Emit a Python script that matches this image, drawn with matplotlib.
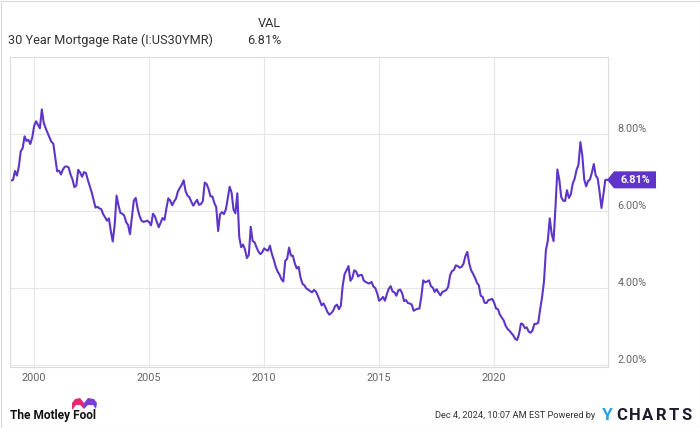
import numpy as np
import matplotlib.pyplot as plt
from matplotlib.patches import Polygon, Rectangle

plt.rcParams['font.family'] = ['Roboto', 'DejaVu Sans']

# 30 year fixed mortgage rate, monthly, Jan 1999 .. Dec 2024 (%)
start_year = 1999
rates = [
    6.79, 6.81, 7.04, 6.92, 7.15, 7.55, 7.63, 7.94, 7.82, 7.85, 7.74, 7.91,  # 1999
    8.21, 8.33, 8.24, 8.15, 8.64, 8.29, 8.15, 8.03, 7.91, 7.80, 7.75, 7.38,  # 2000
    7.03, 7.05, 6.95, 7.08, 7.15, 7.16, 7.13, 6.95, 6.82, 6.62, 6.66, 7.07,  # 2001
    7.00, 6.89, 7.01, 6.99, 6.81, 6.65, 6.49, 6.29, 6.09, 6.11, 6.07, 6.05,  # 2002
    5.92, 5.84, 5.75, 5.81, 5.48, 5.21, 5.63, 6.40, 6.15, 5.95, 5.93, 5.88,  # 2003
    5.71, 5.64, 5.40, 5.83, 6.27, 6.34, 6.06, 5.87, 5.75, 5.72, 5.73, 5.75,  # 2004
    5.71, 5.63, 5.93, 5.86, 5.72, 5.58, 5.70, 5.82, 5.77, 6.07, 6.33, 6.27,  # 2005
    6.15, 6.25, 6.32, 6.51, 6.60, 6.68, 6.80, 6.52, 6.40, 6.36, 6.24, 6.14,  # 2006
    6.22, 6.29, 6.16, 6.18, 6.26, 6.74, 6.70, 6.57, 6.38, 6.38, 6.21, 6.10,  # 2007
    5.48, 5.92, 5.97, 5.92, 6.04, 6.32, 6.63, 6.48, 6.04, 5.94, 6.46, 5.33,  # 2008
    5.06, 5.13, 5.00, 4.78, 4.86, 5.59, 5.22, 5.19, 5.06, 4.95, 4.88, 4.93,  # 2009
    5.03, 4.99, 4.97, 5.10, 4.89, 4.74, 4.56, 4.43, 4.35, 4.23, 4.17, 4.71,  # 2010
    4.76, 5.05, 4.84, 4.84, 4.64, 4.51, 4.55, 4.27, 4.11, 4.07, 3.99, 3.96,  # 2011
    3.92, 3.89, 3.95, 3.91, 3.80, 3.68, 3.55, 3.60, 3.50, 3.38, 3.31, 3.35,  # 2012
    3.41, 3.53, 3.57, 3.45, 3.54, 4.07, 4.37, 4.46, 4.57, 4.19, 4.26, 4.46,  # 2013
    4.43, 4.30, 4.34, 4.34, 4.19, 4.16, 4.13, 4.12, 4.16, 4.04, 4.00, 3.86,  # 2014
    3.67, 3.71, 3.77, 3.67, 3.84, 3.98, 4.05, 3.91, 3.89, 3.80, 3.94, 3.96,  # 2015
    3.87, 3.66, 3.69, 3.61, 3.60, 3.57, 3.41, 3.44, 3.46, 3.47, 3.77, 4.20,  # 2016
    4.15, 4.17, 4.20, 4.05, 4.01, 3.90, 3.97, 3.88, 3.81, 3.90, 3.92, 3.95,  # 2017
    4.03, 4.33, 4.44, 4.47, 4.59, 4.57, 4.53, 4.55, 4.63, 4.83, 4.94, 4.64,  # 2018
    4.46, 4.37, 4.27, 4.14, 4.07, 3.80, 3.77, 3.62, 3.61, 3.69, 3.70, 3.72,  # 2019
    3.62, 3.47, 3.45, 3.31, 3.23, 3.16, 3.02, 2.94, 2.89, 2.83, 2.77, 2.68,  # 2020
    2.65, 2.81, 3.08, 3.06, 2.96, 2.98, 2.87, 2.84, 2.90, 3.07, 3.07, 3.10,  # 2021
    3.45, 3.76, 4.17, 4.98, 5.23, 5.81, 5.41, 5.22, 6.11, 7.08, 6.81, 6.36,  # 2022
    6.27, 6.26, 6.54, 6.34, 6.43, 6.71, 6.84, 7.07, 7.20, 7.79, 7.44, 6.82,  # 2023
    6.64, 6.78, 6.82, 7.00, 7.22, 6.92, 6.85, 6.50, 6.08, 6.43, 6.81, 6.81,  # 2024
]
year_ticks = [2000, 2005, 2010, 2015, 2020]
rate_ticks = [2, 4, 6, 8]

years = start_year + np.arange(len(rates)) / 12

W, H = 700, 428
fig = plt.figure(figsize=(W / 100, H / 100), dpi=100)
ax = fig.add_axes([10 / W, 1 - 367 / H, 598 / W, 310 / H])

ax.plot(years, rates, color='#5e35c6', lw=1.5, solid_joinstyle='round')

ax.set_xlim(1998.95, 2024.95)
ax.set_ylim(1.95, 10.0)

ax.set_xticks(year_ticks)
ax.set_xticklabels([str(y) for y in year_ticks])
ax.set_yticks(rate_ticks)
ax.set_yticklabels(['%.2f%%' % r for r in rate_ticks])
ax.yaxis.tick_right()
for lbl in ax.get_yticklabels():
    lbl.set_va('bottom')

ax.tick_params(axis='both', length=0, labelsize=7.8, labelcolor='#666666')
ax.tick_params(axis='y', pad=7)
ax.tick_params(axis='x', pad=4)
ax.grid(True, color='#e6e6e6', lw=0.8)
for s in ax.spines.values():
    s.set_color('#dcdcdc')
    s.set_linewidth(0.8)

# overlay in pixel coordinates for header, tag and footer
ov = fig.add_axes([0, 0, 1, 1])
ov.set_xlim(0, W)
ov.set_ylim(H, 0)
ov.axis('off')

ov.add_patch(Rectangle((0.5, 0.5), W - 1, H - 1, fill=False, ec='#d8d8d8', lw=0.8))

ov.text(8, 40, '30 Year Mortgage Rate (I:US30YMR)', fontsize=9.2, color='#333333', va='center')
ov.text(281, 23, 'VAL', fontsize=9.2, color='#333333', va='center', ha='right')
ov.text(281, 40, '%.2f%%' % rates[-1], fontsize=9.2, color='#333333', va='center', ha='right')

# last value tag
fig.canvas.draw()
ty = H - ax.transData.transform((years[-1], rates[-1]))[1]
ov.add_patch(Polygon([(607, ty), (614, ty - 8.5), (656, ty - 8.5), (656, ty + 8.5), (614, ty + 8.5)],
                     closed=True, fc='#5e35c6', ec='none'))
ov.text(635, ty, '%.2f%%' % rates[-1], fontsize=7.8, color='white', weight='bold', ha='center', va='center')

# footer
ov.text(10, 416, 'The Motley Fool', fontsize=8.6, weight='bold', color='#111111', va='center')
ov.add_patch(Polygon([(72, 410), (72, 403), (75, 399), (80, 398), (84, 403), (84, 409), (80, 405), (76, 405)],
                     closed=True, fc='#e8286f', ec='none'))
ov.add_patch(Polygon([(84, 409), (84, 403), (88, 398), (94, 399), (97, 403), (96, 409), (93, 405), (88, 405)],
                     closed=True, fc='#7b3fd6', ec='none'))

ov.text(595, 415, 'Dec 4, 2024, 10:07 AM EST Powered by', fontsize=6.7, color='#333333', va='center', ha='right')
ov.text(607, 415, 'Y', fontsize=12.5, weight='bold', color='#2aa4de', va='center', ha='center')
for i, ch in enumerate('CHARTS'):
    ov.text(622 + i * 13, 415, ch, fontsize=12, weight='bold', color='#1d1d2c', va='center', ha='center')

fig.savefig('out.png', dpi=100)
